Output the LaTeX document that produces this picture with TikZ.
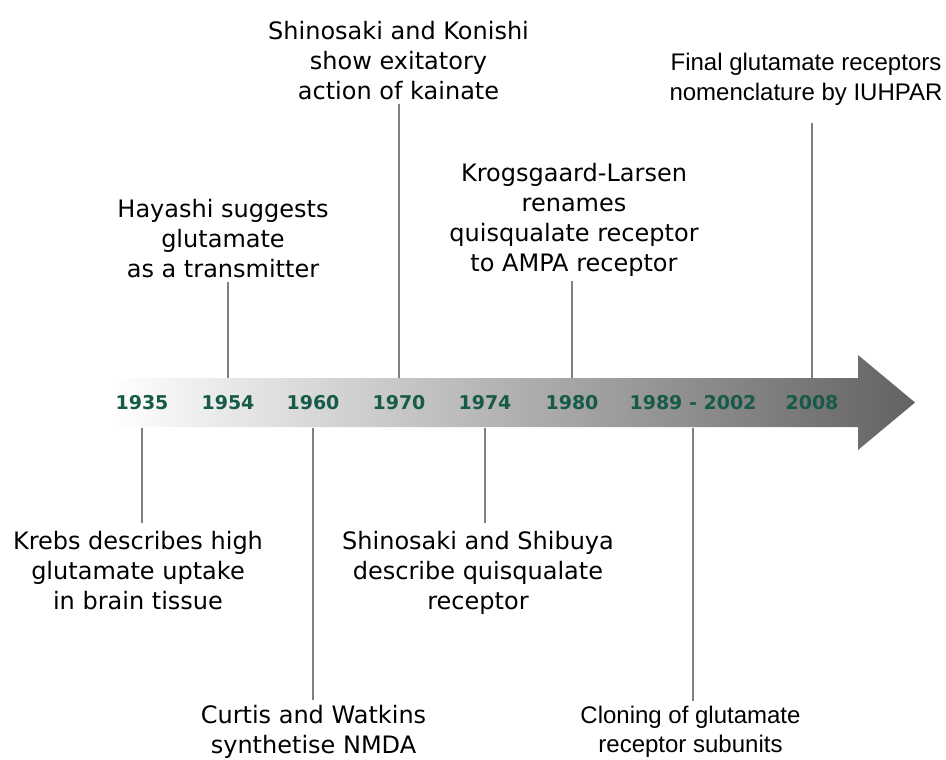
\documentclass[tikz,border=0pt]{standalone}
\usepackage{fontspec}
\setmainfont{DejaVu Sans}
\newfontfamily\arialfont{Liberation Sans}
\usepackage{tikz}
\definecolor{yeargreen}{RGB}{22,90,72}
\definecolor{tickgray}{RGB}{128,128,128}
\definecolor{arrowgray}{RGB}{98,98,98}

\tikzset{
	year/.style={font={\fontsize{19}{19}\selectfont\bfseries}, text=yeargreen,
		minimum height=49pt, inner sep=0pt},
	event/.style={align=center, font={\fontsize{24}{30}\selectfont},
		inner xsep=0pt, inner ysep=4pt},
	eventlow/.style={event, inner ysep=8pt},
	tick/.style={draw=tickgray, line width=1.2pt},
}

\begin{document}
\begin{tikzpicture}[x=1pt,y=-1pt]
	\useasboundingbox (0,0) rectangle (946,760);
	% time axis
	\shade[left color=white, right color=arrowgray]
		(112,378) -- (858,378) -- (858,355) -- (915,402.5)
		-- (858,450) -- (858,427) -- (112,427) -- cycle;
	%
	\foreach \yr/\xp in {1935/142,1954/228,1960/313,1970/399,1974/485,1980/572,2008/812}
		\node[year] (y\yr) at (\xp,403) {\yr};
	\node[year] (y1989) at (693,403) {1989 - 2002};
	%
	\node[event,anchor=south] (konishi) at (398.5,104) {Shinosaki and Konishi\\show exitatory\\action of kainate};
	\node[event,anchor=south] (hayashi) at (223,282) {Hayashi suggests\\glutamate\\as a transmitter};
	\node[event,anchor=south] (larsen) at (574,281) {Krogsgaard-Larsen\\renames\\quisqualate receptor\\to AMPA receptor};
	\node[event,anchor=south,inner ysep=17pt,font={\arialfont\fontsize{24}{30}\selectfont}] (iuhpar) at (806,123) {Final glutamate receptors\\nomenclature by IUHPAR};
	%
	\node[eventlow,anchor=north] (krebs) at (138,523) {Krebs describes high\\glutamate uptake\\in brain tissue};
	\node[event,anchor=north,inner ysep=5pt] (curtis) at (313.5,700) {Curtis and Watkins\\synthetise NMDA};
	\node[eventlow,anchor=north] (shibuya) at (478,523) {Shinosaki and Shibuya\\describe quisqualate\\receptor};
	\node[event,anchor=north,inner ysep=5pt,font={\arialfont\fontsize{24}{29}\selectfont}] (cloning) at (690.5,701) {Cloning of glutamate\\receptor subunits};
	%
	\draw[tick] (y1954.north) -- (y1954.north |- hayashi.south)
		(y1970.north) -- (y1970.north |- konishi.south)
		(y1980.north) -- (y1980.north |- larsen.south)
		(y2008.north) -- (y2008.north |- iuhpar.south)
		(y1935.south) -- (y1935.south |- krebs.north)
		(y1960.south) -- (y1960.south |- curtis.north)
		(y1974.south) -- (y1974.south |- shibuya.north)
		(y1989.south) -- (y1989.south |- cloning.north);
\end{tikzpicture}
\end{document}
